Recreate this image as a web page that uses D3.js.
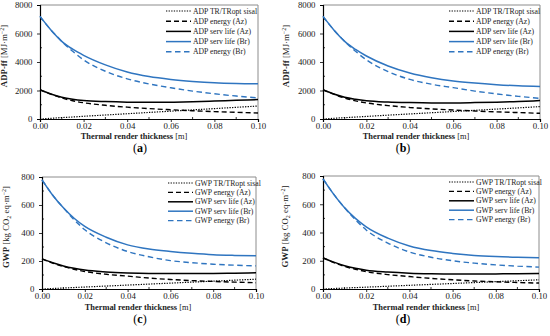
<!DOCTYPE html>
<html>
<head>
<meta charset="utf-8">
<script src="https://cdn.jsdelivr.net/npm/d3@7"></script>
<style>
  body { margin: 0; background: #fff; }
  svg { display: block; font-family: "Liberation Serif", "Times New Roman", serif; }
</style>
</head>
<body>
<svg id="chart"></svg>
<script>
// thickness samples [m]
const thickness = [0, 0.005, 0.01, 0.015, 0.02, 0.03, 0.04, 0.05, 0.06, 0.07, 0.08, 0.09, 0.1];

// (a) ADP
const adpA_sisal    = [0, 50, 100, 140, 190, 280, 370, 460, 550, 640, 730, 820, 910];
const adpA_energyAz = [2050, 1740, 1480, 1280, 1140, 960, 830, 730, 650, 580, 520, 470, 420];
const adpA_servAz   = [2050, 1750, 1530, 1390, 1300, 1220, 1180, 1170, 1180, 1210, 1260, 1310, 1360];
const adpA_servBr   = [7200, 6250, 5450, 4900, 4470, 3800, 3300, 2980, 2780, 2640, 2540, 2490, 2470];
const adpA_energyBr = [7200, 6250, 5450, 4750, 4150, 3350, 2820, 2460, 2190, 1960, 1770, 1610, 1480];

// (b) ADP
const adpB_sisal    = [0, 50, 95, 135, 180, 270, 355, 440, 525, 610, 695, 780, 870];
const adpB_energyAz = [2050, 1740, 1470, 1270, 1130, 940, 810, 710, 630, 560, 500, 450, 400];
const adpB_servAz   = [2050, 1750, 1520, 1380, 1280, 1190, 1150, 1130, 1130, 1150, 1180, 1230, 1290];
const adpB_servBr   = [7200, 6250, 5450, 4880, 4420, 3720, 3230, 2900, 2670, 2520, 2410, 2330, 2280];
const adpB_energyBr = [7200, 6250, 5450, 4750, 4150, 3330, 2780, 2440, 2200, 1960, 1760, 1590, 1450];

// (c) GWP
const gwpC_sisal    = [0, 3.5, 7, 10.5, 14, 21, 28, 35, 42, 49, 56, 63, 70];
const gwpC_energyAz = [215, 185, 160, 141, 125, 105, 92, 78, 68, 60, 54, 49, 45];
const gwpC_servAz   = [215, 188, 165, 148, 135, 122, 115, 111, 110, 110, 111, 113, 116];
const gwpC_servBr   = [780, 670, 580, 505, 447, 370, 315, 285, 268, 255, 245, 240, 237];
const gwpC_energyBr = [780, 670, 580, 495, 423, 330, 268, 230, 203, 188, 177, 170, 165];

// (d) GWP
const gwpD_sisal    = [0, 3.3, 6.5, 10, 13, 19.5, 26, 32.5, 39, 45.5, 52, 58.5, 65];
const gwpD_energyAz = [220, 187, 160, 140, 123, 102, 88, 75, 65, 57, 51, 46, 42];
const gwpD_servAz   = [220, 190, 165, 147, 133, 120, 112, 108, 106, 106, 107, 108, 110];
const gwpD_servBr   = [780, 670, 575, 500, 440, 360, 305, 272, 252, 238, 230, 225, 222];
const gwpD_energyBr = [780, 670, 575, 490, 418, 325, 262, 225, 200, 183, 171, 162, 155];

const xTicks = [0, 0.02, 0.04, 0.06, 0.08, 0.1];
const adpTicks = [0, 2000, 4000, 6000, 8000];
const gwpTicks = [0, 200, 400, 600, 800];
const seriesNames = ["TR/TRopt sisal", "energy (Az)", "serv life (Az)", "serv life (Br)", "energy (Br)"];

const blue = "#2f75c0";
const styles = [
  { color: "#000", dash: "1.3,1.3", width: 1.2 },
  { color: "#000", dash: "5,3", width: 1.4 },
  { color: "#000", dash: null, width: 1.5 },
  { color: blue, dash: null, width: 1.5 },
  { color: blue, dash: "5.5,3.5", width: 1.4 }
];

const W = 550, H = 336;
const svg = d3.select("#chart").attr("width", W).attr("height", H);

const panels = [
  { label: "(a)", kind: "ADP", ticks: adpTicks, max: 8000, box: [40, 258, 5, 119],
    series: [adpA_sisal, adpA_energyAz, adpA_servAz, adpA_servBr, adpA_energyBr],
    ytx: 7, xtCenter: 134, xtY: 139, lblX: 140, lblY: 152, legGap: 10.2 },
  { label: "(b)", kind: "ADP", ticks: adpTicks, max: 8000, box: [323, 540, 5, 119],
    series: [adpB_sisal, adpB_energyAz, adpB_servAz, adpB_servBr, adpB_energyBr],
    ytx: 289, xtCenter: 416, xtY: 139, lblX: 403, lblY: 152, legGap: 10.2 },
  { label: "(c)", kind: "GWP", ticks: gwpTicks, max: 800, box: [42, 256, 177, 289],
    series: [gwpC_sisal, gwpC_energyAz, gwpC_servAz, gwpC_servBr, gwpC_energyBr],
    ytx: 9, xtCenter: 138, xtY: 310, lblX: 140, lblY: 323, legGap: 9.4 },
  { label: "(d)", kind: "GWP", ticks: gwpTicks, max: 800, box: [323, 539, 176, 289],
    series: [gwpD_sisal, gwpD_energyAz, gwpD_servAz, gwpD_servBr, gwpD_energyBr],
    ytx: 288, xtCenter: 426, xtY: 310, lblX: 403, lblY: 323, legGap: 9.4 }
];

function drawPanel(p) {
  const [x0, x1, y0, y1] = p.box;
  const x = d3.scaleLinear().domain([0, 0.1]).range([x0, x1]);
  const y = d3.scaleLinear().domain([0, p.max]).range([y1, y0]);
  const g = svg.append("g");

  // gray frame top/right
  g.append("path")
    .attr("d", `M${x0},${y0}H${x1}V${y1}`)
    .attr("fill", "none").attr("stroke", "#8c8c8c").attr("stroke-width", 1);

  // minor ticks
  const xMinor = d3.range(0.01, 0.1, 0.02);
  g.selectAll(".xm").data(xMinor).enter().append("line")
    .attr("x1", d => x(d)).attr("x2", d => x(d))
    .attr("y1", y1).attr("y2", y1 - 2)
    .attr("stroke", "#000").attr("stroke-width", 0.8);
  const yMinor = p.ticks.slice(0, -1).map(t => t + p.max / 8);
  g.selectAll(".ym").data(yMinor).enter().append("line")
    .attr("x1", x0).attr("x2", x0 + 2)
    .attr("y1", d => y(d)).attr("y2", d => y(d))
    .attr("stroke", "#000").attr("stroke-width", 0.8);

  // axes
  const xAxis = d3.axisBottom(x).tickValues(xTicks).tickFormat(d3.format(".2f")).tickSize(3).tickPadding(1);
  const yAxis = d3.axisLeft(y).tickValues(p.ticks).tickFormat(d3.format("d")).tickSize(3).tickPadding(4.5);
  [g.append("g").attr("transform", `translate(0,${y1})`).call(xAxis),
   g.append("g").attr("transform", `translate(${x0},0)`).call(yAxis)].forEach(a => {
    a.select(".domain").attr("stroke", "#000").attr("stroke-width", 1.2);
    a.selectAll(".tick line").attr("stroke", "#000").attr("stroke-width", 0.8);
    a.selectAll(".tick text").attr("font-size", 8.8).attr("fill", "#222")
      .attr("font-family", "Liberation Serif, serif");
  });

  // lines
  const line = d3.line().x((d, i) => x(thickness[i])).y(d => y(d)).curve(d3.curveMonotoneX);
  p.series.forEach((s, i) => {
    const st = styles[i];
    g.append("path").datum(s).attr("d", line)
      .attr("fill", "none").attr("stroke", st.color)
      .attr("stroke-width", st.width)
      .attr("stroke-dasharray", st.dash);
  });

  // legend
  const lx = x0 + 126;
  seriesNames.forEach((n, i) => {
    const st = styles[i];
    const ly = y0 + 6 + i * p.legGap;
    g.append("line").attr("x1", lx).attr("x2", lx + 25).attr("y1", ly).attr("y2", ly)
      .attr("stroke", st.color).attr("stroke-width", st.width).attr("stroke-dasharray", st.dash);
    g.append("text").attr("x", lx + 27).attr("y", ly + 2.6)
      .attr("font-size", 7.7).attr("fill", "#222").text(p.kind + " " + n);
  });

  // y title
  const yt = g.append("text")
    .attr("transform", `translate(${p.ytx},${(y0 + y1) / 2 - 6}) rotate(-90)`)
    .attr("text-anchor", "middle").attr("font-size", 8.8).attr("fill", "#222");
  if (p.kind === "ADP") {
    yt.append("tspan").attr("font-weight", "bold").text("ADP-ff");
    yt.append("tspan").text(" [MJ·m");
    yt.append("tspan").attr("font-size", 6).attr("dy", -3).text("−2");
    yt.append("tspan").attr("dy", 3).text("]");
  } else {
    yt.append("tspan").attr("font-weight", "bold").text("GWP");
    yt.append("tspan").text(" [kg CO");
    yt.append("tspan").attr("font-size", 6).attr("dy", 2).text("2");
    yt.append("tspan").attr("dy", -2).text(" eq·m");
    yt.append("tspan").attr("font-size", 6).attr("dy", -3).text("−2");
    yt.append("tspan").attr("dy", 3).text("]");
  }

  // x title
  const xt = g.append("text").attr("x", p.xtCenter).attr("y", p.xtY)
    .attr("text-anchor", "middle").attr("font-size", 8.4).attr("fill", "#222");
  xt.append("tspan").attr("font-weight", "bold").text("Thermal render thickness ");
  xt.append("tspan").text("[m]");

  // panel label
  const lb = g.append("text").attr("x", p.lblX).attr("y", p.lblY)
    .attr("text-anchor", "middle").attr("font-size", 12).attr("fill", "#000");
  lb.append("tspan").text("(");
  lb.append("tspan").attr("font-weight", "bold").text(p.label[1]);
  lb.append("tspan").text(")");
}

panels.forEach(drawPanel);
</script>
</body>
</html>
